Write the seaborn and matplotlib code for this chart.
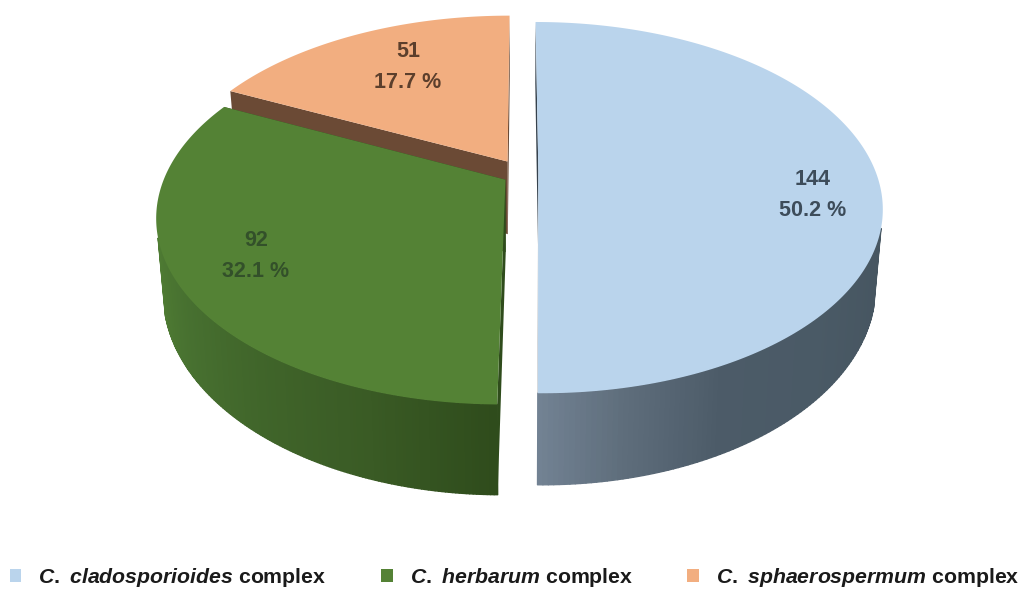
import numpy as np
import seaborn as sns
import matplotlib
matplotlib.use("Agg")
import matplotlib.pyplot as plt
from matplotlib.collections import PolyCollection
from matplotlib.colors import LinearSegmentedColormap
from matplotlib.patches import Patch, Polygon
from matplotlib.path import Path
from matplotlib.transforms import Affine2D, Transform

# Isolate counts per species complex
complexes = ["cladosporioides", "herbarum", "sphaerospermum"]
counts = [144, 92, 51]
shares = ["50.2", "32.1", "17.7"]

top_colors = ["#bad4ec", "#548235", "#f2ae80"]
label_colors = ["#3d4c5a", "#33502a", "#5c3f2c"]
wall_stops = [
    ["#465560", "#4a5a66", "#4c5b68", "#5e6d7b", "#728293"],
    ["#2f4c1c", "#3a5b25", "#40652a", "#477030", "#4f7c33"],
    ["#6b4a35", "#6b4a35"],
]
cut_colors = ["#36424d", "#2f4c1c", "#6b4a35"]

sns.set_theme(style="white")
plt.rcParams["font.family"] = ["Liberation Sans", "DejaVu Sans"]
plt.rcParams["mathtext.fontset"] = "custom"
plt.rcParams["mathtext.rm"] = "Liberation Sans:bold"
plt.rcParams["mathtext.it"] = "Liberation Sans:italic:bold"
plt.rcParams["mathtext.bf"] = "Liberation Sans:bold"


class DiscProjection(Transform):
    """Perspective view of the unit pie plane, in pixel-like data units."""
    input_dims = 2
    output_dims = 2
    is_affine = False

    def __init__(self, cx, cy, a, b, k):
        super().__init__()
        self.cx, self.cy, self.a, self.b, self.k = cx, cy, a, b, k

    def transform_non_affine(self, values):
        values = np.asarray(values, dtype=float)
        w = 1 + self.k * values[:, 1]
        return np.column_stack([self.cx + self.a * values[:, 0] / w,
                                self.cy - self.b * values[:, 1] / w])

    def transform_path_non_affine(self, path):
        # Flatten the arcs first so the curved rim survives the projection
        scale = 3000.0
        polys = path.to_polygons(Affine2D().scale(scale), closed_only=True)
        verts = np.concatenate(polys) / scale
        return Path(self.transform_non_affine(verts), closed=True)


# One projection per slice: the right half is drawn a little narrower
projections = [DiscProjection(cx=520, cy=172, a=a, b=178.4, k=0.197) for a in (337, 340, 340)]
wall_heights = [73.5, 72.0, 73.5]
base_shrink = 0.98
# Small per-slice screen offset on top of the radial explode
slice_nudge = [(1.5, -1), (0, 3), (0, 0)]


def lower_rim(proj, top_xy, v, height):
    w = 1 + proj.k * v
    return np.column_stack([proj.cx + (top_xy[:, 0] - proj.cx) * base_shrink,
                            top_xy[:, 1] + height / w])


def project(proj, u, v):
    return proj.transform_non_affine(np.column_stack([u, v]))


fig = plt.figure(figsize=(10.21, 5.89), dpi=100)
ax = fig.add_axes([0, 0, 1, 1])

wedges, _ = ax.pie(
    counts,
    startangle=90,
    counterclock=False,
    explode=[0.05, 0.05, 0.07],
    colors=top_colors,
    wedgeprops={"linewidth": 0},
)
ax.set_aspect("auto")
ax.set_xlim(0, 1021)
ax.set_ylim(589, 0)
ax.axis("off")

draw_order = [2, 1, 0]
for layer, i in enumerate(draw_order):
    wedge = wedges[i]
    proj = projections[i]
    x0, y0 = wedge.center
    nudge = np.array(slice_nudge[i])
    base_z = 2 + layer * 3

    # Flat faces along the two radial cuts
    for angle in (wedge.theta1, wedge.theta2):
        t = np.radians(angle)
        u = np.array([x0, x0 + np.cos(t)])
        v = np.array([y0, y0 + np.sin(t)])
        top = project(proj, u, v) + nudge
        low = lower_rim(proj, top, v, wall_heights[i])
        ax.add_patch(Polygon(np.vstack([top, low[::-1]]), closed=True,
                             facecolor=cut_colors[i], edgecolor="none",
                             linewidth=0, zorder=base_z))

    # Outer rim as thin shaded strips, only where it faces the viewer
    thetas = np.radians(np.linspace(wedge.theta1, wedge.theta2, 241))
    thetas = thetas[np.sin(thetas) < -0.3]
    if len(thetas) > 1:
        u = x0 + np.cos(thetas)
        v = y0 + np.sin(thetas)
        top = project(proj, u, v) + nudge
        low = lower_rim(proj, top, v, wall_heights[i])
        quads = [np.array([top[j], top[j + 1], low[j + 1], low[j]])
                 for j in range(len(thetas) - 1)]
        cmap = LinearSegmentedColormap.from_list(f"wall{i}", wall_stops[i])
        # Light falls on the front of the blue rim, and fades to the right
        if i == 0:
            shade = np.clip(np.degrees(thetas[:-1]) / -90.7, 0, 1) ** 2.0
        else:
            shade = np.linspace(1, 0, len(quads))
        wall = PolyCollection(quads, facecolors=cmap(shade), edgecolors=cmap(shade),
                              linewidths=1.0, zorder=base_z + 1)
        ax.add_collection(wall)

    wedge.set_transform(proj + Affine2D().translate(*nudge) + ax.transData)
    wedge.set_zorder(base_z + 2)

label_xy = [(813, 195), (256, 256), (408, 67)]
for (lx, ly), n, share, color in zip(label_xy, counts, shares, label_colors):
    ax.text(lx, ly, f"{n}\n{share} %", ha="center", va="center", color=color,
            fontsize=15.5, fontweight="bold", linespacing=1.6, zorder=20)

handles = [Patch(facecolor=c, edgecolor="none") for c in top_colors]
names = [rf"$\mathit{{C.\ {name}}}$ complex" for name in complexes]
fig.legend(handles, names, ncol=3, loc="lower center", bbox_to_anchor=(0.504, -0.033),
           frameon=False, handlelength=0.55, handleheight=0.55,
           handletextpad=0.8, columnspacing=2.55, labelcolor="#1a1a1a",
           prop={"weight": "bold", "size": 15.3, "family": "Liberation Sans"})

fig.savefig("out.png", dpi=100)
